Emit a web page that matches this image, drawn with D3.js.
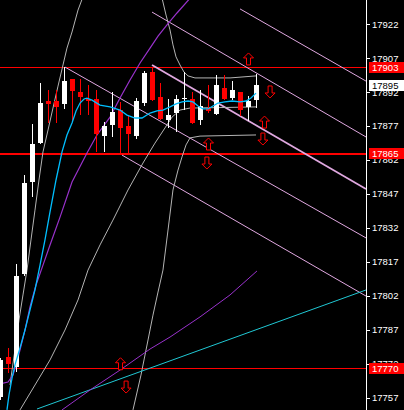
<!DOCTYPE html>
<html>
<head>
<meta charset="utf-8">
<script src="https://cdn.jsdelivr.net/npm/d3@7/dist/d3.min.js"></script>
<style>
  html, body { margin: 0; padding: 0; background: #000; }
  #chart { width: 404px; height: 410px; }
</style>
</head>
<body>
<div id="chart"></div>
<script>
// Candles, one per bar index 0..32
const opens  = [17757.5, 17775.1, 17770.7, 17811.7, 17852.3, 17869.5, 17888.0, 17888.0, 17886.7, 17897.7,
                17892.0, 17888.9, 17888.9, 17872.6, 17877.4, 17884.1, 17877.0, 17872.6, 17887.2, 17900.8,
                17889.8, 17879.7, 17882.7, 17889.0, 17888.9, 17879.7, 17884.9, 17882.3, 17893.8, 17889.4,
                17892.0, 17885.4, 17888.5];
const highs  = [17774.5, 17779.1, 17816.1, 17855.4, 17877.9, 17896.0, 17892.9, 17892.9, 17903.0, 17898.0,
                17897.7, 17895.1, 17892.9, 17878.8, 17892.0, 17887.6, 17881.9, 17889.5, 17901.3, 17903.0,
                17896.0, 17888.9, 17890.7, 17900.8, 17892.0, 17892.9, 17895.1, 17899.5, 17899.5, 17896.9,
                17892.2, 17890.2, 17900.0];
const lows   = [17756.0, 17768.1, 17768.5, 17810.8, 17845.7, 17869.1, 17878.3, 17878.3, 17884.5, 17878.8,
                17881.9, 17881.9, 17865.5, 17865.5, 17872.2, 17864.7, 17864.7, 17871.5, 17885.8, 17888.0,
                17879.7, 17876.1, 17874.4, 17884.1, 17877.9, 17877.4, 17882.7, 17881.9, 17888.5, 17888.5,
                17881.4, 17879.2, 17884.9];
const closes = [17773.8, 17772.0, 17810.8, 17851.9, 17869.1, 17887.2, 17886.7, 17885.4, 17896.9, 17892.4,
                17889.8, 17888.0, 17873.5, 17877.0, 17883.2, 17876.1, 17873.5, 17888.0, 17900.4, 17888.5,
                17880.1, 17881.9, 17888.9, 17889.5, 17878.3, 17885.8, 17883.6, 17895.1, 17888.9, 17892.9,
                17884.1, 17888.0, 17895.0];

// Indicator lines as [bar index, price]
const fastMA = [[0.81,17751.6],[1.06,17758.2],[1.44,17765.7],[1.81,17771.5],[2.44,17779.0],[3.06,17786.9],
  [3.69,17795.8],[4.31,17804.6],[4.94,17815.6],[5.56,17826.7],[6.19,17839.1],[6.94,17853.2],[7.69,17865.6],
  [8.31,17873.1],[8.94,17878.4],[9.44,17883.7],[9.94,17887.2],[10.44,17889.0],[10.81,17889.4],[11.44,17888.5],
  [12.44,17886.3],[13.69,17885.5],[14.94,17884.1],[15.81,17881.9],[16.81,17880.6],[17.69,17880.6],[18.69,17882.8],
  [19.56,17883.7],[20.31,17884.1],[21.19,17885.5],[21.94,17886.8],[22.69,17887.7],[23.44,17888.1],[24.06,17887.7],
  [24.69,17885.9],[25.31,17884.6],[25.94,17884.6],[26.56,17885.9],[27.19,17887.2],[28.06,17887.7],[28.94,17888.1],
  [29.94,17887.7],[30.69,17888.1],[31.31,17889.4],[31.94,17891.6]];
const slowMA = [[-0.06,17763.1],[0.94,17763.9],[1.56,17767.0],[2.06,17772.8],[2.44,17778.1],[3.06,17786.9],
  [3.69,17797.1],[4.44,17806.8],[5.31,17815.6],[6.19,17824.5],[7.44,17836.8],[8.94,17852.3],[10.81,17865.1],
  [12.06,17873.1],[13.69,17881.0],[14.94,17889.4],[16.19,17897.4],[17.44,17904.9],[18.69,17911.5],[19.69,17916.8],
  [20.81,17921.7],[22.06,17927.0],[23.94,17934.5]];
const longMA = [[7.69,17751.6],[11.19,17760.4],[14.94,17769.2],[18.69,17778.5],[21.19,17783.8],[24.94,17792.7],
  [28.69,17802.4],[32.06,17813.0]];
const trendLine = [[4.56,17752.0],[45.69,17804.6]];

const bandOuter = [[1.19,17762.6],[1.44,17769.2],[1.81,17778.1],[2.31,17791.3],[2.81,17802.4],[3.31,17813.4],
  [3.81,17826.7],[4.31,17839.9],[4.81,17853.2],[5.31,17865.6],[5.94,17875.3],[6.56,17885.0],[7.19,17894.7],
  [7.81,17904.0],[8.31,17911.5],[8.94,17918.6],[9.69,17928.3],[10.44,17935.4]];
const bandMid = [[2.44,17751.6],[4.31,17762.6],[6.19,17773.7],[8.06,17786.9],[9.69,17800.2],[10.94,17813.4],
  [12.44,17824.5],[14.06,17835.5],[15.94,17848.8],[17.81,17860.7],[19.31,17869.5],[20.56,17876.2],[21.44,17881.0],
  [22.44,17884.1],[23.69,17885.0],[27.44,17885.2],[31.94,17885.5]];
const bandLow = [[16.56,17751.6],[17.56,17767.0],[18.44,17782.5],[19.06,17793.5],[19.69,17803.7],[20.31,17813.4],
  [20.94,17831.1],[21.56,17848.8],[22.19,17857.6],[22.69,17863.4],[23.19,17868.7],[23.69,17871.8],[24.94,17872.6],
  [31.94,17873.1]];
const bandUp = [[20.19,17933.6],[20.69,17926.1],[21.19,17919.5],[21.56,17912.9],[21.94,17907.6],[22.44,17904.0],
  [22.94,17900.9],[23.44,17899.2],[24.31,17898.3],[28.69,17898.3],[31.94,17899.2]];

const channels = [
  [[29.94,17928.8],[45.69,17896.9]],
  [[18.94,17927.4],[45.69,17872.2]],
  [[18.94,17904.0],[45.69,17849.2]],
  [[8.06,17903.1],[45.69,17827.6]],
  [[15.19,17864.2],[45.69,17801.9]]
];

const upArrows   = [[31.0,17906.7],[33.0,17878.8],[26.0,17869.1],[15.0,17772.0]];
const downArrows = [[33.7,17892.1],[32.8,17871.3],[25.8,17860.7],[15.7,17761.7]];

const levels = [17903, 17865, 17770];
const lastPrice = 17895;
const tickValues = [17922, 17907, 17892, 17877, 17862, 17847, 17832, 17817, 17802, 17787, 17772, 17757];

const width = 404, height = 410, plotRight = 366;

const svg = d3.select("#chart").append("svg")
  .attr("width", width).attr("height", height)
  .style("background", "#000")
  .style("font-family", "'Liberation Sans', Arial, sans-serif");

svg.append("defs").append("clipPath").attr("id", "plot")
  .append("rect").attr("x", 0).attr("y", 0).attr("width", plotRight).attr("height", height);

const x = d3.scaleLinear().domain([0, 45.6875]).range([0.5, plotRight]);
const y = d3.scaleLinear().domain([17922, 17757]).range([24.3, 397.7]);

const g = svg.append("g").attr("clip-path", "url(#plot)");
const line = d3.line().x(d => x(d[0])).y(d => y(d[1]));

// Red level lines (the middle one is drawn heavier in the reference)
g.selectAll(".level").data(levels).enter().append("line")
  .attr("x1", 0).attr("x2", plotRight)
  .attr("y1", d => Math.round(y(d)) + 0.5).attr("y2", d => Math.round(y(d)) + 0.5)
  .attr("stroke", "#ff0000")
  .attr("stroke-width", (d, i) => i === 1 ? 2 : 1)
  .attr("shape-rendering", "crispEdges");

// Channel lines
g.selectAll(".chan").data(channels).enter().append("path")
  .attr("d", line).attr("fill", "none")
  .attr("stroke", "#e0a8e0")
  .attr("stroke-width", (d, i) => i === 2 ? 1.8 : 1);

// Band lines
[bandOuter, bandMid, bandLow, bandUp].forEach(pts => {
  g.append("path").attr("d", line(pts)).attr("fill", "none")
    .attr("stroke", "#b4b4b4").attr("stroke-width", 1);
});

g.append("path").attr("d", line(trendLine)).attr("fill", "none")
  .attr("stroke", "#20c8d4").attr("stroke-width", 1);
g.append("path").attr("d", line(longMA)).attr("fill", "none")
  .attr("stroke", "#9932cc").attr("stroke-width", 1);
g.append("path").attr("d", line(slowMA)).attr("fill", "none")
  .attr("stroke", "#9932cc").attr("stroke-width", 1.2);

// Candles
const candles = opens.map((o, i) => ({ i, o, h: highs[i], l: lows[i], c: closes[i] }));
const cg = g.append("g").attr("shape-rendering", "crispEdges");
cg.selectAll(".wick").data(candles).enter().append("line")
  .attr("x1", d => x(d.i)).attr("x2", d => x(d.i))
  .attr("y1", d => y(d.h)).attr("y2", d => y(d.l))
  .attr("stroke", d => d.c >= d.o ? "#ffffff" : "#ff0000");
cg.selectAll(".body").data(candles).enter().append("rect")
  .attr("x", d => x(d.i) - 2.5)
  .attr("width", 5)
  .attr("y", d => Math.round(y(Math.max(d.o, d.c))))
  .attr("height", d => Math.max(1, Math.round(Math.abs(y(d.o) - y(d.c)))))
  .attr("fill", d => d.c >= d.o ? "#ffffff" : "#ff0000");

g.append("path").attr("d", line(fastMA)).attr("fill", "none")
  .attr("stroke", "#00bfff").attr("stroke-width", 1.3);

// Signal arrows
const upPath = "M0,-6L5,-1L2,-1L2,6L-2,6L-2,-1L-5,-1Z";
const downPath = "M0,6L5,1L2,1L2,-6L-2,-6L-2,1L-5,1Z";
g.selectAll(".up").data(upArrows).enter().append("path")
  .attr("d", upPath)
  .attr("transform", d => `translate(${x(d[0])},${y(d[1])})`)
  .attr("fill", "#000").attr("stroke", "#ff0000").attr("stroke-width", 1);
g.selectAll(".down").data(downArrows).enter().append("path")
  .attr("d", downPath)
  .attr("transform", d => `translate(${x(d[0])},${y(d[1])})`)
  .attr("fill", "#000").attr("stroke", "#ff0000").attr("stroke-width", 1);

// Price axis
const axis = svg.append("g").attr("transform", `translate(${plotRight},0)`);
axis.append("line").attr("x1", 0.5).attr("x2", 0.5).attr("y1", 0).attr("y2", height)
  .attr("stroke", "#fff").attr("shape-rendering", "crispEdges");
axis.selectAll(".tick").data(tickValues).enter().append("line")
  .attr("x1", 0).attr("x2", 4)
  .attr("y1", d => Math.round(y(d)) + 0.5).attr("y2", d => Math.round(y(d)) + 0.5)
  .attr("stroke", "#fff").attr("shape-rendering", "crispEdges");
axis.selectAll(".lbl").data(tickValues).enter().append("text")
  .attr("x", 6).attr("y", d => y(d)).attr("dy", "0.35em")
  .attr("fill", "#fff").attr("font-size", "9.5px")
  .text(d => d);

// Price tags (drawn over the tick labels they cover)
const tags = levels.map(v => ({ v, last: false })).concat([{ v: lastPrice, last: true }]);
const tag = axis.selectAll(".tag").data(tags).enter().append("g")
  .attr("transform", d => `translate(3,${Math.round(y(d.v)) - 5})`);
tag.append("rect").attr("width", 35).attr("height", 11)
  .attr("fill", d => d.last ? "#fff" : "#ff0000");
tag.append("text").attr("x", 3).attr("y", 5.5).attr("dy", "0.35em")
  .attr("font-size", "9.5px")
  .attr("fill", d => d.last ? "#000" : "#fff")
  .text(d => d.v);
</script>
</body>
</html>
